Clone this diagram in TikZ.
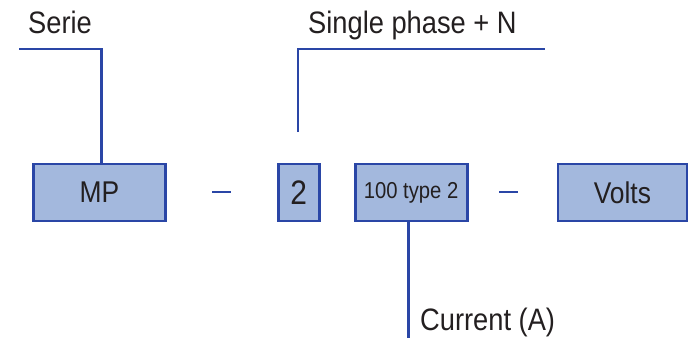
\documentclass[tikz,border=0pt]{standalone}
\usepackage{fontspec}
\setmainfont{Liberation Sans}[FakeStretch=0.88]
\usetikzlibrary{positioning}
\definecolor{boxfill}{HTML}{A3B8DD}
\definecolor{boxline}{HTML}{2A46A6}
\definecolor{inkgray}{HTML}{231F20}
\begin{document}
\begin{tikzpicture}[
        x=1pt, y=-1pt,
        node distance=10pt and 10pt,
        codebox/.style={draw=boxline, line width=2.8pt, fill=boxfill, inner sep=0pt, minimum height=57pt, text=inkgray, font=\fontsize{30}{36}\selectfont},
        tag/.style={anchor=base west, inner sep=0pt, text=inkgray, font=\fontsize{31}{37}\selectfont},
        link/.style={draw=boxline, line width=2.5pt}
    ]
        \useasboundingbox (0,0) rectangle (694,338);

        % code boxes
        \node[codebox, minimum width=132pt] (mp) at (99.5,192.5) {MP};
        \node[codebox, minimum width=41pt, right=110pt of mp, font=\fontsize{34}{40}\selectfont] (two) {2};
        \node[codebox, minimum width=112pt, right=33pt of two, font=\fontsize{23}{28}\selectfont] (amps) {100 type 2};
        \node[codebox, minimum width=129pt, right=88pt of amps] (volts) {Volts};

        % labels
        \node[tag] (serie) at (28,33) {Serie};
        \node[tag] (phase) at (308,33) {Single phase + N};
        \node[tag] (current) at (420,330) {Current (A)};

        % free ends of the leader lines
        \coordinate (serieend) at (19,49);
        \coordinate (phasetip) at (298,132);
        \coordinate (phaseend) at (545,49);
        \coordinate (currentend) at ([xshift=-2.5pt]amps.south |- 0,338);

        % separators
        \coordinate (sepa) at (212,192);
        \coordinate (sepb) at (231,192);
        \coordinate (sepc) at (499,192);
        \coordinate (sepd) at (518,192);
        \draw[link] (sepa) -- (sepb);
        \draw[link] (sepc) -- (sepd);

        % leaders
        \draw[link] (serieend) -| ([xshift=2pt]mp.north);
        \draw[link] (phasetip) |- (phaseend);
        \draw[link] ([xshift=-2.5pt]amps.south) -- (currentend);

    \end{tikzpicture}
\end{document}
